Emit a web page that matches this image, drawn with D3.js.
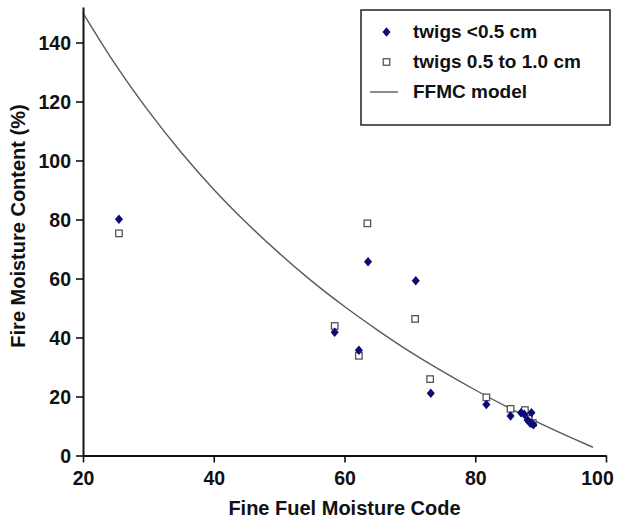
<!DOCTYPE html>
<html>
<head>
<meta charset="utf-8">
<script src="https://cdn.jsdelivr.net/npm/d3@7"></script>
<style>
  html, body { margin: 0; padding: 0; background: #fff; }
  svg { display: block; }
  text { font-family: "Liberation Sans", Arial, sans-serif; font-weight: bold; fill: #111; }
</style>
</head>
<body>
<svg id="chart" width="620" height="525"></svg>
<script>
// ---- data ----
const twigsSmallX = [25.5, 58.5, 62.2, 63.6, 70.9, 73.2, 81.7, 85.4, 87.0, 87.5, 88.6, 88.0, 88.4, 88.9, 88.6];
const twigsSmallY = [80.1, 41.8, 35.7, 65.7, 59.2, 21.1, 17.3, 13.4, 14.5, 14.0, 14.5, 12.0, 11.0, 10.4, 10.9];
const twigsLargeX = [25.5, 58.5, 62.2, 63.5, 70.8, 73.1, 81.7, 85.4, 87.6, 88.2, 88.8];
const twigsLargeY = [75.3, 43.9, 33.8, 78.7, 46.3, 25.9, 19.7, 15.8, 15.4, 12.5, 11.0];
const modelX = [20, 25, 30, 35, 40, 45, 50, 55, 60, 65, 70, 75, 80, 85, 90, 95, 98];
const modelY = [150.0, 132.4, 116.8, 102.8, 90.2, 78.9, 68.6, 59.1, 50.5, 42.6, 35.2, 28.5, 22.2, 16.3, 10.8, 5.7, 2.8];
const xTicks = [20, 40, 60, 80, 100];
const yTicks = [0, 20, 40, 60, 80, 100, 120, 140];
const legendLabels = ["twigs <0.5 cm", "twigs 0.5 to 1.0 cm", "FFMC model"];
const xTitle = "Fine Fuel Moisture Code";
const yTitle = "Fire Moisture Content (%)";

const svg = d3.select("#chart");
const x = d3.scaleLinear().domain([20, 100]).range([83, 606]);
const y = d3.scaleLinear().domain([0, 152]).range([455.5, 7.1]);

// model curve
const modelPts = modelX.map((v, i) => [v, modelY[i]]);
svg.append("path")
  .datum(modelPts)
  .attr("fill", "none")
  .attr("stroke", "#5a5a5a")
  .attr("stroke-width", 1.4)
  .attr("d", d3.line().x(d => x(d[0])).y(d => y(d[1])).curve(d3.curveMonotoneX));

// axes
const xAxis = svg.append("g").attr("transform", `translate(0,${y(0)})`)
  .call(d3.axisBottom(x).tickValues(xTicks).tickSize(7).tickSizeOuter(0).tickPadding(9));
const yAxis = svg.append("g").attr("transform", `translate(${x(20)},0)`)
  .call(d3.axisLeft(y).tickValues(yTicks).tickSize(7).tickSizeOuter(0).tickPadding(5));
[xAxis, yAxis].forEach(g => {
  g.select(".domain").attr("stroke", "#111").attr("stroke-width", 2);
  g.selectAll(".tick line").attr("stroke", "#111").attr("stroke-width", 1.6);
  g.selectAll(".tick text")
    .attr("font-family", "'Liberation Sans', Arial, sans-serif")
    .attr("font-weight", "bold")
    .attr("font-size", 19.5)
    .attr("fill", "#111");
});
yAxis.selectAll(".tick text").attr("dy", "0.35em");
// keep the last x label inside the picture
xAxis.selectAll(".tick text").filter(d => d === 100).attr("dx", -9);

// squares (twigs 0.5 to 1.0 cm)
const sq = 6.5;
svg.append("g").selectAll("rect")
  .data(twigsLargeX.map((v, i) => [v, twigsLargeY[i]]))
  .join("rect")
  .attr("x", d => x(d[0]) - sq / 2)
  .attr("y", d => y(d[1]) - sq / 2)
  .attr("width", sq).attr("height", sq)
  .attr("fill", "#fff")
  .attr("stroke", "#555")
  .attr("stroke-width", 1.3);

// diamonds (twigs <0.5 cm): slightly taller than wide
const diamondType = {
  draw(ctx, size) {
    const h = Math.sqrt(size) * 0.7, w = h * 0.85;
    ctx.moveTo(0, -h); ctx.lineTo(w, 0); ctx.lineTo(0, h); ctx.lineTo(-w, 0); ctx.closePath();
  }
};
const diamond = d3.symbol().type(diamondType).size(46);
svg.append("g").selectAll("path")
  .data(twigsSmallX.map((v, i) => [v, twigsSmallY[i]]))
  .join("path")
  .attr("transform", d => `translate(${x(d[0])},${y(d[1])})`)
  .attr("d", diamond)
  .attr("fill", "#0b0b78");

// titles
svg.append("text")
  .attr("x", (x(20) + x(100)) / 2).attr("y", 515)
  .attr("text-anchor", "middle").attr("font-size", 20)
  .text(xTitle);
svg.append("text")
  .attr("transform", "translate(25,226) rotate(-90)")
  .attr("text-anchor", "middle").attr("font-size", 20)
  .text(yTitle);

// legend
const lg = svg.append("g");
lg.append("rect").attr("x", 361).attr("y", 10).attr("width", 249).attr("height", 115)
  .attr("fill", "#fff").attr("stroke", "#222").attr("stroke-width", 1.5);
const rowY = [32, 62, 92];
lg.append("path").attr("transform", `translate(386.5,${rowY[0]})`).attr("d", diamond).attr("fill", "#0b0b78");
lg.append("rect").attr("x", 386.5 - sq / 2).attr("y", rowY[1] - sq / 2).attr("width", sq).attr("height", sq)
  .attr("fill", "#fff").attr("stroke", "#555").attr("stroke-width", 1.3);
lg.append("line").attr("x1", 370).attr("x2", 398).attr("y1", rowY[2]).attr("y2", rowY[2])
  .attr("stroke", "#5a5a5a").attr("stroke-width", 1.4);
legendLabels.forEach((t, i) => {
  lg.append("text").attr("x", 413).attr("y", rowY[i]).attr("dy", "0.33em")
    .attr("font-size", 19).text(t);
});
</script>
</body>
</html>
